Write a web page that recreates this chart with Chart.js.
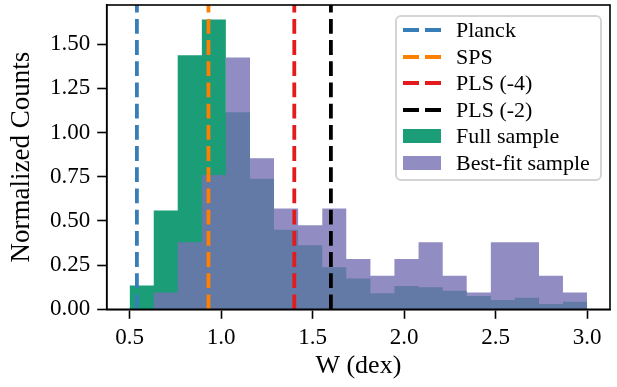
<!DOCTYPE html>
<html>
<head>
<meta charset="utf-8">
<script src="https://cdn.jsdelivr.net/npm/chart.js@4.4.1/dist/chart.umd.min.js"></script>
<style>
  body { margin: 0; background: #fff; }
  #wrap { position: relative; width: 617px; height: 387px; }
  #legend {
    position: absolute; left: 395px; top: 15px; width: 203px; height: 162px;
    border: 2px solid #d4d4d4; border-radius: 6px; background: rgba(255,255,255,0.8);
    font-family: "Liberation Serif", serif; font-size: 22px; color: #000;
  }
  .row { position: absolute; left: 6px; height: 26px; display: flex; align-items: center; white-space: nowrap; }
  .row svg { width: 38px; height: 16px; margin-right: 15px; flex: none; }
</style>
</head>
<body>
<div id="wrap">
  <canvas id="grafica" width="617" height="387"></canvas>
  <div id="legend"></div>
</div>
<script>
// histogram bins (W in dex)
const binEdges = [0.5, 0.632, 0.763, 0.895, 1.026, 1.158, 1.289, 1.421, 1.553, 1.684,
                  1.816, 1.947, 2.079, 2.211, 2.342, 2.474, 2.605, 2.737, 2.868, 3.0];
const fullSample = [0.134, 0.559, 1.438, 1.640, 1.115, 0.739, 0.450, 0.363, 0.238, 0.174,
                    0.091, 0.132, 0.125, 0.105, 0.075, 0.053, 0.066, 0.030, 0.043];
const bestFit = [0, 0.095, 0.380, 0.760, 1.425, 0.855, 0.570, 0.475, 0.570, 0.285,
                 0.190, 0.285, 0.380, 0.190, 0.095, 0.380, 0.380, 0.190, 0.095];

// reference W values
const refNames = ['Planck', 'SPS', 'PLS (-4)', 'PLS (-2)'];
const refValues = [0.54, 0.931, 1.40, 1.60];
const refColors = ['#377eb8', '#ff7f00', '#e41a1c', '#000000'];

const xTicks = [0.5, 1.0, 1.5, 2.0, 2.5, 3.0];
const yTicks = [0, 0.25, 0.5, 0.75, 1.0, 1.25, 1.5];
const xMin = 0.375, xMax = 3.125;
const yMax = 1.722;

const green = 'rgb(27,158,119)';
const purple = 'rgba(117,112,179,0.8)';
const dash = [14.8, 6.4];

function histPoints(vals) {
    const pts = vals.map((v, i) => ({x: binEdges[i], y: v}));
    pts.push({x: binEdges[binEdges.length - 1], y: vals[vals.length - 1]});
    return pts;
}

const datasets = [];
refNames.forEach((name, i) => {
    datasets.push({
        label: name,
        data: [{x: refValues[i], y: 0}, {x: refValues[i], y: yMax}],
        borderColor: refColors[i],
        borderWidth: 3.8,
        borderDash: dash,
        pointRadius: 0,
        fill: false,
        order: 0
    });
});
datasets.push({
    label: 'Full sample',
    data: histPoints(fullSample),
    stepped: true,
    borderWidth: 0,
    borderColor: 'transparent',
    backgroundColor: green,
    pointRadius: 0,
    fill: 'origin',
    order: 2
});
datasets.push({
    label: 'Best-fit sample',
    data: histPoints(bestFit),
    stepped: true,
    borderWidth: 0,
    borderColor: 'transparent',
    backgroundColor: purple,
    pointRadius: 0,
    fill: 'origin',
    order: 1
});

const frame = {
    id: 'frame',
    afterDatasetsDraw(chart) {
        const a = chart.chartArea, ctx = chart.ctx;
        ctx.save();
        ctx.strokeStyle = '#000';
        ctx.lineWidth = 1.6;
        ctx.strokeRect(a.left, a.top, a.right - a.left, a.bottom - a.top);
        ctx.restore();
    }
};

const tickFont = {family: 'Liberation Serif', size: 23};

const config = {
    type: 'line',
    data: {datasets: datasets},
    options: {
        responsive: false,
        animation: false,
        layout: {padding: {top: 5, right: 7, left: 0, bottom: 0}},
        plugins: {legend: {display: false}, tooltip: {enabled: false}},
        scales: {
            x: {
                type: 'linear',
                min: xMin, max: xMax,
                afterBuildTicks: s => { s.ticks = xTicks.map(v => ({value: v})); },
                afterFit: s => { s.height = 77.7; s.paddingLeft = 0; s.paddingRight = 0; },
                ticks: {font: tickFont, color: '#000', padding: 5, maxRotation: 0,
                        callback: v => v.toFixed(1)},
                grid: {drawOnChartArea: false, tickLength: 9.5, tickWidth: 1.6, tickColor: '#000'},
                border: {color: '#000', width: 1.6},
                title: {display: true, text: 'W (dex)', color: '#000',
                        font: {family: 'Liberation Serif', size: 26, lineHeight: 1.2},
                        padding: {top: 0, bottom: 5}}
            },
            y: {
                min: 0, max: yMax,
                afterBuildTicks: s => { s.ticks = yTicks.map(v => ({value: v})); },
                afterFit: s => { s.width = 106.7; s.paddingTop = 0; s.paddingBottom = 0; },
                ticks: {font: tickFont, color: '#000', padding: 7,
                        callback: v => v.toFixed(2)},
                grid: {drawOnChartArea: false, tickLength: 9.5, tickWidth: 1.6, tickColor: '#000'},
                border: {color: '#000', width: 1.6},
                title: {display: true, text: 'Normalized Counts', color: '#000',
                        font: {family: 'Liberation Serif', size: 27, lineHeight: 1.2},
                        padding: {top: 6, bottom: 0}}
            }
        }
    },
    plugins: [frame]
};

new Chart(document.querySelector('#grafica'), config);

// legend inside the axes, top right
const legend = document.querySelector('#legend');
const rowTops = [0, 26.5, 53, 79.5, 106, 132.5];
const entries = refNames.map((n, i) => ({label: n, kind: 'line', color: refColors[i]}))
    .concat([{label: 'Full sample', kind: 'box', color: green},
             {label: 'Best-fit sample', kind: 'box', color: purple}]);
entries.forEach((e, i) => {
    const row = document.createElement('div');
    row.className = 'row';
    row.style.top = rowTops[i] + 'px';
    const sw = e.kind === 'line'
        ? `<svg viewBox="0 0 38 16"><line x1="0" y1="8" x2="38" y2="8" stroke="${e.color}" stroke-width="3.8" stroke-dasharray="16 6"/></svg>`
        : `<svg viewBox="0 0 38 16"><rect x="0" y="1" width="38" height="14" fill="${e.color}"/></svg>`;
    row.innerHTML = sw + '<span>' + e.label + '</span>';
    legend.appendChild(row);
});
</script>
</body>
</html>
